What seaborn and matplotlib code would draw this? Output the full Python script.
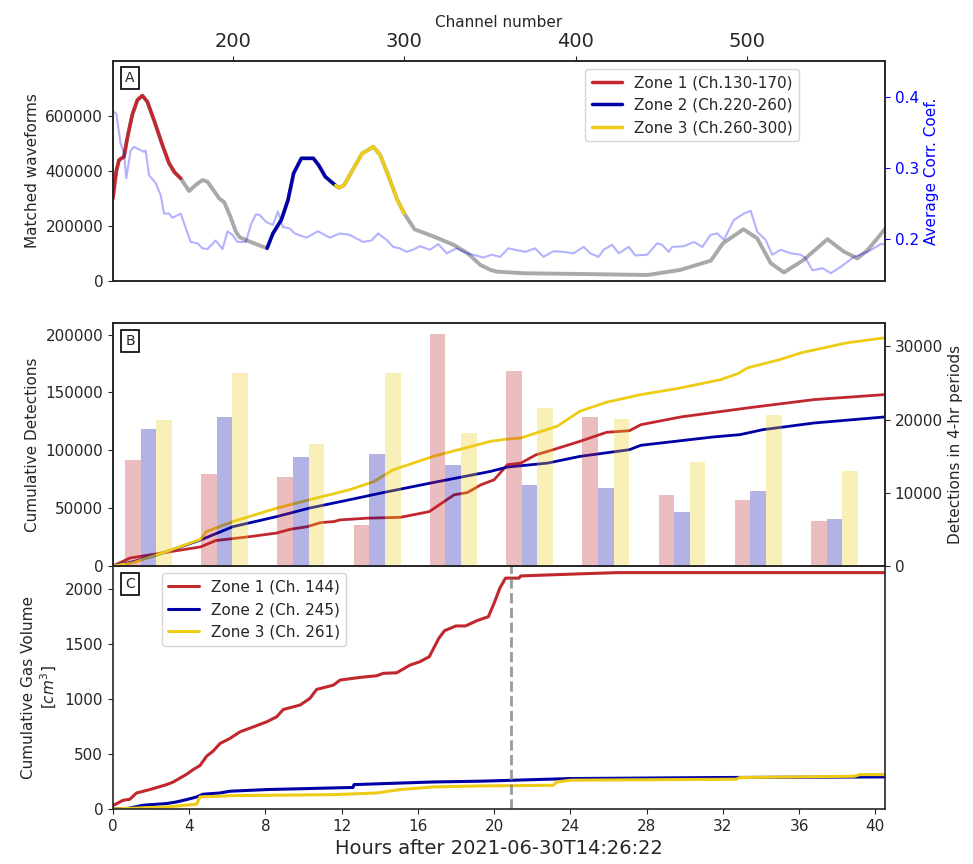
import matplotlib
matplotlib.use('Agg')
import matplotlib.pyplot as plt
import numpy as np
import seaborn as sns

sns.set_style('ticks')
plt.rcParams['font.family'] = ['DejaVu Sans']
plt.rcParams['font.size'] = 11

RED, BLUE, YELLOW = '#C1272D', '#0000A7', '#EECC16'

# ---- panel A: matched waveforms per channel
ch_wave = [130, 132, 133.6, 136.5, 138.4, 141.3, 144.3, 147.2, 150.1, 154, 158.9, 162.8,
           166, 169.6, 174.5, 178.5, 182.3, 185.2, 192, 195, 198.5, 201.8, 204, 207.6,
           214, 220, 223.4, 228.3, 232.2, 235.5, 240, 247, 250, 254, 260, 262, 265,
           270.5, 275.5, 282, 286, 291, 296, 300, 306, 317.5, 329, 337, 344.5, 350.5,
           354, 370, 402, 442, 461, 479, 486, 498, 506, 514, 521.6, 533, 547, 556.5,
           564.5, 570.5, 580.5]
waveforms = [300000, 400000, 440000, 452000, 519000, 604000, 658000, 674000, 652000,
             585000, 494500, 428000, 395000, 373000, 327000, 350000, 367000, 361000,
             300700, 286000, 235000, 179000, 159000, 149000, 133000, 119000, 173000,
             222000, 294500, 392000, 446000, 446000, 422000, 379000, 347000, 339000,
             349000, 410000, 464000, 488000, 458000, 379000, 295000, 246000, 188000,
             161000, 131000, 101000, 58000, 40000, 34000, 28000, 25500, 21800, 40000,
             74000, 137000, 188000, 155000, 64000, 31000, 76000, 152000, 107000, 82000,
             113000, 188000]

ch_corr = [130, 132, 134.5, 136.5, 137.8, 140.4, 142.3, 148.2, 149.1, 151.1, 155, 157.9,
           159.9, 162.8, 164.7, 169.6, 171.6, 175.4, 179.4, 182.3, 185.2, 190, 194, 196.9,
           199.8, 202.7, 207.6, 210.5, 213.5, 215.6, 219.5, 223.4, 226.3, 229.2, 233.2,
           236.1, 242.9, 249.7, 256.6, 262.4, 268.2, 276, 280.9, 284.8, 289.7, 293.6,
           297.5, 301.4, 305, 309.2, 315, 319.9, 324.8, 330.6, 336.5, 340.4, 346.2,
           351.1, 356, 360.8, 364.7, 370.6, 376.4, 381.3, 387.1, 393, 398.8, 404.7,
           408.6, 413.4, 416.4, 421.3, 425.2, 431, 434.9, 441.8, 447.6, 450.5, 454.4,
           456.4, 463.2, 469.1, 474, 478.8, 482.7, 486.6, 492.4, 498.3, 502.2, 506.1,
           510.9, 514.8, 519.7, 525.6, 531.4, 534.3, 538.2, 544.1, 549, 554.8, 562.6,
           570.4, 578.2, 580.5]
corr = [0.380, 0.377, 0.335, 0.321, 0.286, 0.325, 0.330, 0.323, 0.325, 0.290, 0.279,
        0.262, 0.236, 0.236, 0.230, 0.236, 0.222, 0.196, 0.194, 0.187, 0.186, 0.198,
        0.186, 0.211, 0.206, 0.196, 0.196, 0.220, 0.235, 0.234, 0.224, 0.220, 0.239,
        0.217, 0.215, 0.208, 0.202, 0.211, 0.202, 0.208, 0.206, 0.196, 0.198, 0.208,
        0.199, 0.189, 0.187, 0.182, 0.185, 0.190, 0.185, 0.193, 0.180, 0.187, 0.180,
        0.178, 0.174, 0.178, 0.175, 0.187, 0.185, 0.182, 0.187, 0.175, 0.183, 0.182,
        0.180, 0.189, 0.180, 0.175, 0.185, 0.192, 0.180, 0.189, 0.177, 0.178, 0.194,
        0.192, 0.182, 0.189, 0.190, 0.196, 0.189, 0.206, 0.208, 0.199, 0.227, 0.236,
        0.240, 0.210, 0.199, 0.178, 0.185, 0.180, 0.178, 0.173, 0.156, 0.159, 0.152,
        0.161, 0.175, 0.182, 0.193, 0.193]

zone_labels = ['Zone 1 (Ch.130-170)', 'Zone 2 (Ch.220-260)', 'Zone 3 (Ch.260-300)']
zone_ranges = [(130, 170), (220, 260), (260, 300)]

# ---- panel B: cumulative detections and 4-hr counts
t_det1 = [0, 0.9, 4.6, 5.4, 7.2, 8.6, 9.3, 10.2, 10.9, 11.6, 11.9, 13.3, 15.1, 16.6,
          17.2, 17.9, 18.6, 19.3, 20.0, 20.7, 21.4, 22.2, 23.1, 24.5, 25.9, 27.1, 27.7,
          29.8, 33.3, 36.8, 40.5]
det1 = [0, 6900, 16500, 22000, 25400, 28500, 31700, 34000, 37500, 38400, 39800, 41300,
        42100, 47000, 53700, 61500, 63500, 70100, 74500, 87500, 88900, 96100, 100500,
        107700, 115500, 116900, 122100, 128800, 136600, 143800, 148100]
t_det2 = [0, 1.05, 2.3, 4.6, 6.3, 8.6, 10.3, 12.4, 14.2, 16.8, 19.8, 20.7, 22.8, 24.5,
          27.1, 27.7, 31.5, 32.9, 34.1, 36.8, 40.5]
det2 = [0, 3700, 9500, 22500, 34000, 42700, 50000, 57200, 63500, 72100, 81700, 85500,
        88900, 94700, 100500, 104300, 111500, 113500, 117800, 123600, 128800]
t_det3 = [0, 1.05, 2.8, 4.6, 4.9, 6.3, 8.6, 10.3, 12.4, 13.7, 14.7, 16.8, 19.8, 20.7,
          21.4, 23.3, 24.5, 25.9, 27.7, 29.8, 31.9, 32.8, 33.3, 35.0, 36.1, 38.5, 40.5]
det3 = [0, 2900, 12400, 23100, 29700, 38400, 50000, 57200, 65800, 73000, 83100, 94700,
        107700, 109700, 110600, 120700, 133700, 141500, 148100, 153900, 161100, 166300,
        171200, 178400, 184200, 192800, 197200]

period_start = [0, 4, 8, 12, 16, 20, 24, 28, 32, 36]
bars1 = [14540, 12630, 12170, 5610, 31640, 26630, 20340, 9710, 9070, 6110]
bars2 = [18700, 20340, 14950, 15280, 13770, 11040, 10630, 7340, 10220, 6430]
bars3 = [19970, 26300, 16650, 26400, 18190, 21520, 20110, 14180, 20560, 12990]

# ---- panel C: cumulative gas volume
t_gas1 = [0, 0.54, 0.89, 1.24, 1.94, 2.82, 3.17, 3.87, 4.22, 4.57, 4.92, 5.27, 5.62,
          6.14, 6.67, 7.37, 8.07, 8.59, 8.94, 9.82, 10.34, 10.69, 11.57, 11.92, 12.97,
          13.84, 14.19, 14.89, 15.59, 16.1, 16.6, 17.1, 17.4, 18.0, 18.5, 19.1, 19.7,
          20.0, 20.3, 20.6, 21.3, 21.4, 24.5, 26.5, 40.5]
gas1 = [30, 79, 88, 145, 176, 221, 245, 315, 358, 394, 479, 527, 594, 640, 700, 745,
        791, 836, 903, 943, 1004, 1085, 1124, 1170, 1194, 1209, 1231, 1236, 1306, 1336,
        1382, 1549, 1618, 1661, 1661, 1709, 1745, 1867, 2004, 2095, 2095, 2115, 2134,
        2145, 2145]
t_gas2 = [0, 0.8, 1.59, 2.82, 3.34, 3.87, 4.39, 4.74, 5.62, 6.14, 8.07, 11.57, 12.6,
          12.65, 16.8, 19.3, 24.0, 31.5, 40.5]
gas2 = [0, 5, 34, 49, 64, 85, 109, 134, 145, 161, 176, 191, 195, 221, 245, 252, 276,
        285, 291]
t_gas3 = [0, 2.82, 4.39, 4.57, 6.3, 11.57, 13.84, 15.07, 16.8, 19.3, 23.1, 23.3, 24.0,
          32.7, 32.9, 38.9, 39.2, 40.5]
gas3 = [0, 18, 43, 109, 121, 130, 145, 176, 200, 209, 215, 245, 261, 270, 285, 297,
        312, 312]
gas_labels = ['Zone 1 (Ch. 144)', 'Zone 2 (Ch. 245)', 'Zone 3 (Ch. 261)']
event_time = 20.88

colors = [RED, BLUE, YELLOW]

fig = plt.figure(figsize=(9.73, 8.64), dpi=100)
axA = fig.add_axes([0.116, 0.6748, 0.7934, 0.2546])
axC = fig.add_axes([0.116, 0.0637, 0.7934, 0.2812])
axB = fig.add_axes([0.116, 0.3449, 0.7934, 0.2813], sharex=axC)


def panel_label(ax, s):
    ax.text(0.016, 0.955, s, transform=ax.transAxes, ha='left', va='top', fontsize=10,
            bbox=dict(boxstyle='square,pad=0.3', fc='white', ec='black', lw=1.2))


# A
ch = np.array(ch_wave)
wf = np.array(waveforms)
sns.lineplot(x=ch, y=wf, color='darkgray', lw=2.8, estimator=None, sort=False, ax=axA)
for lab, (lo, hi), c in zip(zone_labels, zone_ranges, colors):
    m = (ch >= lo) & (ch <= hi)
    sns.lineplot(x=ch[m], y=wf[m], color=c, lw=2.5, estimator=None, sort=False,
                 label=lab, ax=axA)
axA.set_xlim(130, 580.5)
axA.set_ylim(0, 800000)
axA.set_yticks([0, 200000, 400000, 600000])
axA.xaxis.tick_top()
axA.xaxis.set_label_position('top')
axA.set_xticks([200, 300, 400, 500])
axA.set_xlabel('Channel number', fontsize=11)
axA.set_ylabel('Matched waveforms', fontsize=11)
axA.legend(loc='upper right', bbox_to_anchor=(0.889, 0.964), borderaxespad=0,
           fontsize=11, frameon=True)
panel_label(axA, 'A')

axA2 = axA.twinx()
sns.lineplot(x=ch_corr, y=corr, color='blue', alpha=0.3, lw=1.5, estimator=None,
             sort=False, ax=axA2)
axA2.set_ylim(0.141, 0.451)
axA2.set_yticks([0.2, 0.3, 0.4])
axA2.set_ylabel('Average Corr. Coef.', color='blue', fontsize=11)

# B
for t, v, c in zip([t_det1, t_det2, t_det3], [det1, det2, det3], colors):
    sns.lineplot(x=t, y=v, color=c, lw=2, estimator=None, sort=False, ax=axB)
axB.set_ylim(0, 210000)
axB.set_yticks(range(0, 200001, 50000))
axB.set_ylabel('Cumulative Detections', fontsize=11)
panel_label(axB, 'B')

axB2 = axB.twinx()
w = 0.82
x0 = np.array(period_start) + 1.86
for k, (b, c) in enumerate(zip([bars1, bars2, bars3], colors)):
    axB2.bar(x0 + (k - 1) * w, b, width=w, color=c, alpha=0.3, lw=0)
axB2.set_ylim(0, 33200)
axB2.set_yticks([0, 10000, 20000, 30000])
axB2.set_ylabel('Detections in 4-hr periods', fontsize=11)

# C
for t, v, c, lab in zip([t_gas1, t_gas2, t_gas3], [gas1, gas2, gas3], colors, gas_labels):
    sns.lineplot(x=t, y=v, color=c, lw=2.2, estimator=None, sort=False, label=lab, ax=axC)
axC.axvline(event_time, color='gray', ls='--', lw=2, alpha=0.8)
axC.set_xlim(0, 40.5)
axC.set_ylim(0, 2205)
axC.set_xticks(range(0, 41, 4))
axC.set_yticks(range(0, 2001, 500))
axC.set_xlabel('Hours after 2021-06-30T14:26:22', fontsize=14)
axC.set_ylabel('Cumulative Gas Volume\n[$cm^3$]', fontsize=11)
axC.legend(loc='upper left', bbox_to_anchor=(0.0635, 0.97), borderaxespad=0,
           fontsize=11, frameon=True)
panel_label(axC, 'C')

for ax in [axA, axA2, axB, axB2, axC]:
    ax.tick_params(labelsize=11)
    for s in ax.spines.values():
        s.set_linewidth(1.2)
axA.tick_params(axis='x', labelsize=14)
axA2.tick_params(axis='y', colors='blue')
axB.tick_params(axis='x', length=0, labelbottom=False)

fig.savefig('out.png', dpi=100)
